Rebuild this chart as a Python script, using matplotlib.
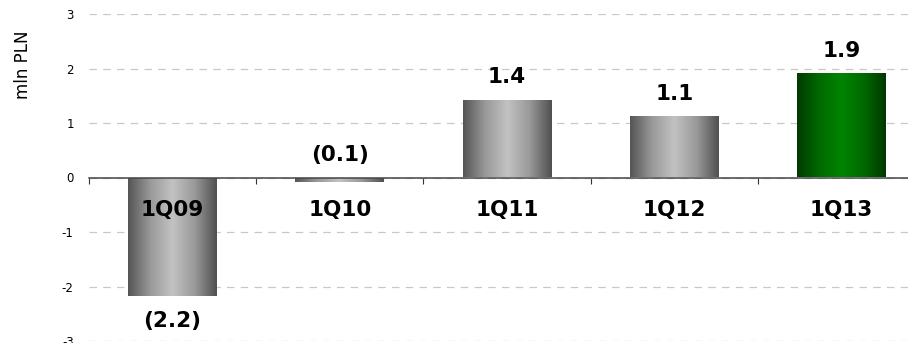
import numpy as np
import matplotlib.pyplot as plt
from matplotlib.colors import LinearSegmentedColormap

quarters = ["1Q09", "1Q10", "1Q11", "1Q12", "1Q13"]
values = [-2.18, -0.08, 1.43, 1.12, 1.91]
labels = ["(2.2)", "(0.1)", "1.4", "1.1", "1.9"]
highlight = [False, False, False, False, True]
yticks = [-3, -2, -1, 0, 1, 2, 3]

plt.rcParams['font.family'] = ['DejaVu Sans']
plt.rcParams['axes.unicode_minus'] = False

fig = plt.figure(figsize=(9.08, 3.43), dpi=100)
ax = fig.add_axes([89 / 908, 2 / 343, (925 - 89) / 908, 327 / 343])

gray = LinearSegmentedColormap.from_list("g", ["#555555", "#999999", "#c2c2c2", "#999999", "#505050"])
green = LinearSegmentedColormap.from_list("gr", ["#003a00", "#006a00", "#008400", "#006a00", "#003800"])
grad = np.linspace(0, 1, 256).reshape(1, -1)

x = np.arange(len(quarters))
bars = ax.bar(x, values, width=0.53, color="none", edgecolor="none", zorder=3)
for b, hl in zip(bars, highlight):
    x0, y0 = b.get_x(), b.get_y()
    w, h = b.get_width(), b.get_height()
    im = ax.imshow(grad, cmap=green if hl else gray, aspect="auto",
                   extent=[x0, x0 + w, y0, y0 + h], zorder=3, interpolation="bicubic")
    im.set_clip_path(b)

for xi, v, lab, q in zip(x, values, labels, quarters):
    if v > -0.5:
        # small or positive bars: label sits above
        ax.annotate(lab, (xi, max(v, 0)), xytext=(0, 16), textcoords="offset points",
                    ha="center", va="center", fontsize=15.5, fontweight="bold")
    else:
        ax.annotate(lab, (xi, v), xytext=(0, -18), textcoords="offset points",
                    ha="center", va="center", fontsize=15.5, fontweight="bold")
    ax.text(xi, -0.59, q, ha="center", va="center", fontsize=15.5,
            fontweight="bold", zorder=5)

ax.set_xlim(-0.5, len(quarters) - 0.5)
ax.set_ylim(-3, 3)
ax.set_yticks(yticks)
ax.set_yticklabels([str(t) for t in yticks], fontsize=8.5)
ax.set_xticks(np.arange(-0.5, len(quarters) - 0.5, 1))
ax.set_xticklabels([])
ax.tick_params(axis="x", direction="out", length=4, color="#333333", width=0.8)
ax.tick_params(axis="y", length=0, pad=11)
ax.grid(axis="y", color="#c8c8c8", linestyle=(0, (6, 5)), linewidth=0.9, zorder=0)
for s in ["top", "right", "left"]:
    ax.spines[s].set_visible(False)
ax.spines["bottom"].set_position(("data", 0))
ax.spines["bottom"].set_color("#444444")
ax.spines["bottom"].set_linewidth(1.1)
ax.spines["bottom"].set_zorder(4)
ax.set_ylabel("mln PLN", fontsize=12)
ax.yaxis.set_label_coords(-0.068, 0.844)

fig.savefig("out.png", dpi=100)
